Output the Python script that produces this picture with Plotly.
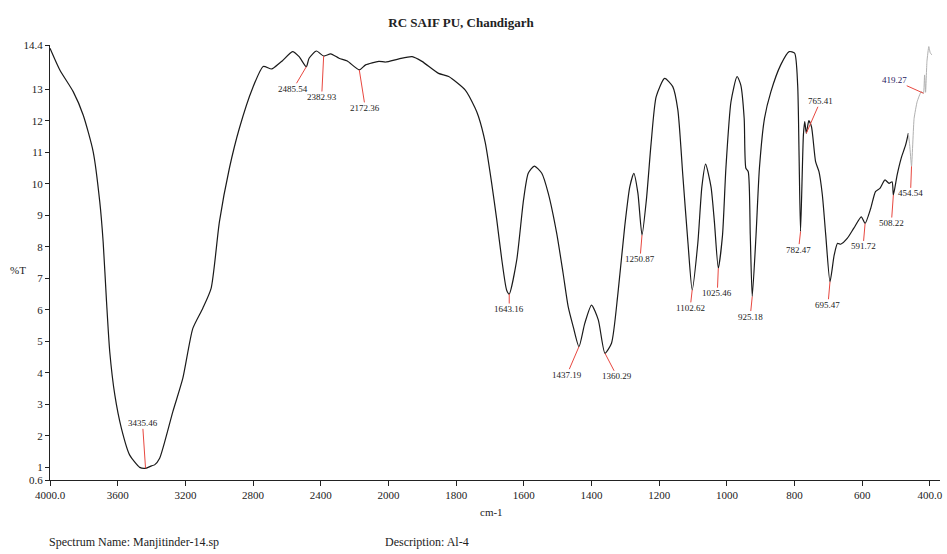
import numpy as np
import plotly.graph_objects as go

# ---- spectrum data (wavenumber cm-1, %T) ----
wn_main = [4000, 3941, 3863, 3804, 3745, 3706, 3686, 3666, 3647, 3617, 3578, 3529, 3470, 3435.46,
           3400, 3382, 3352, 3274, 3215, 3156, 3097, 3048, 2999, 2940, 2881, 2803, 2740, 2690,
           2645, 2626, 2567, 2528, 2485.54, 2469, 2426, 2382.93, 2341, 2292, 2243, 2172.36, 2135,
           2057, 2017, 1969, 1930, 1901, 1852, 1822, 1773, 1744, 1734, 1714, 1695, 1680, 1665,
           1651, 1643.16, 1621, 1601, 1587, 1569, 1547, 1528, 1503, 1484, 1469, 1454, 1437.19,
           1420, 1400, 1380, 1360.29, 1341, 1322, 1302, 1287, 1275, 1263, 1250.87, 1238, 1224,
           1209, 1184, 1160, 1145, 1130, 1115, 1102.62, 1086, 1074, 1063, 1047, 1037, 1025.46,
           1013, 1003, 988, 970, 959, 949, 944, 937, 931, 925.18, 914, 904, 889, 870, 841, 816,
           800, 791, 787, 782.47, 774, 770, 765.41, 758, 750, 738, 728, 718, 708, 695.47, 683,
           673, 664, 644, 625, 603, 591.72, 575, 561, 548, 533, 521, 512, 508.22, 497, 485, 472, 464]
t_main = [14.3, 13.6, 12.92, 12.18, 11.02, 9.43, 8.16, 6.26, 4.67, 3.30, 2.24, 1.39, 1.00, 0.97,
          1.05, 1.08, 1.29, 2.77, 3.83, 5.41, 6.05, 6.68, 8.79, 10.49, 11.76, 13.03, 13.72, 13.64,
          13.82, 13.9, 14.19, 14.03, 13.71, 13.98, 14.21, 14.05, 14.12, 13.98, 13.89, 13.61, 13.77,
          13.88, 13.86, 13.96, 14.03, 13.88, 13.5, 13.4, 12.97, 12.4, 12.13, 11.3, 10.01, 8.85, 7.58,
          6.63, 6.5, 7.58, 9.48, 10.33, 10.56, 10.33, 9.7, 8.43, 7.16, 6.1, 5.46, 4.83,
          5.57, 6.15, 5.68, 4.62, 4.94, 6.52, 8.64, 9.9, 10.33, 9.7, 8.37, 9.48, 11.28,
          12.76, 13.34, 13.08, 12.34, 10.22, 8.11, 6.63, 8.11, 9.9, 10.62, 9.9, 8.79, 7.32,
          8.37, 10.49, 12.6, 13.4, 13.13, 12.07, 10.49, 10.38, 8.37, 6.42, 8.37, 10.49, 12.07, 12.92, 13.77, 14.19,
          14.14, 13.13, 11.02, 8.48, 11.55, 11.97, 11.6, 12.0, 11.8, 10.7, 10.38, 9.64, 8.37, 6.89, 7.74,
          8.11, 8.08, 8.27, 8.59, 8.95, 8.74, 9.22, 9.75, 9.85, 10.12, 10.01, 10.06, 9.64, 10.28, 10.81, 11.23, 11.6]

wn_tail = [464, 460, 454.54, 447, 438, 426, 419.27, 416, 413, 409, 403.5, 399, 394]
t_tail = [11.6, 11.23, 10.55, 12.07, 12.6, 12.92, 12.87, 13.45, 12.9, 13.88, 14.35, 14.14, 14.09]

# ---- peak labels ----
peak_wn = [3435.46, 2485.54, 2382.93, 2172.36, 1643.16, 1437.19, 1360.29, 1250.87, 1102.62,
           1025.46, 925.18, 782.47, 765.41, 695.47, 591.72, 508.22, 454.54, 419.27]
peak_text = ["3435.46", "2485.54", "2382.93", "2172.36", "1643.16", "1437.19", "1360.29", "1250.87",
             "1102.62", "1025.46", "925.18", "782.47", "765.41", "695.47", "591.72", "508.22",
             "454.54", "419.27"]

# ---- axis ticks ----
tick_wn = [4000, 3600, 3200, 2800, 2400, 2000, 1800, 1600, 1400, 1200, 1000, 800, 600, 400]
tick_lbl = ["4000.0", "3600", "3200", "2800", "2400", "2000", "1800", "1600", "1400", "1200",
            "1000", "800", "600", "400.0"]
ytick_vals = [0.6, 1, 2, 3, 4, 5, 6, 7, 8, 9, 10, 11, 12, 13, 14.4]
ytick_lbl = ["0.6", "1", "2", "3", "4", "5", "6", "7", "8", "9", "10", "11", "12", "13", "14.4"]

# label offsets in pixels (style, not data)
label_offsets = [(-3, -45), (-13, 22), (-2, 41), (6, 38), (0, 15), (-12, 28), (12, 23), (-2, 24),
                 (-2, 18), (-1, 25), (-2, 20), (-2, 18), (14, -32), (-2, 23), (-2, 23), (-2, 28),
                 (-1, 27), (-29, -13)]


def to_u(w):
    """Instrument scale: x2 expansion below 2000 cm-1."""
    w = np.asarray(w, dtype=float)
    return np.where(w >= 2000, 4000 - w, 2000 + 2 * (2000 - w))


SERIF = "Liberation Serif, Times New Roman, serif"

fig = go.Figure()
fig.add_trace(go.Scatter(x=to_u(wn_main), y=t_main, mode="lines",
                         line=dict(color="#1a1a1a", width=1.2, shape="spline", smoothing=0.6),
                         hoverinfo="skip", showlegend=False))
fig.add_trace(go.Scatter(x=to_u(wn_tail), y=t_tail, mode="lines",
                         line=dict(color="#b0b0b0", width=1, shape="spline", smoothing=0.4),
                         hoverinfo="skip", showlegend=False))

all_u = np.concatenate([to_u(wn_main), to_u(wn_tail)])
all_t = np.concatenate([t_main, t_tail])
order = np.argsort(all_u)
for w, txt, (ax, ay) in zip(peak_wn, peak_text, label_offsets):
    u = float(to_u(w))
    t = float(np.interp(u, all_u[order], all_t[order]))
    fig.add_annotation(x=u, y=t, xref="x", yref="y", text=txt, showarrow=True,
                       arrowhead=0, arrowwidth=1, arrowcolor="#e8473f", standoff=0,
                       ax=ax, ay=ay, borderpad=0,
                       font=dict(family=SERIF, size=9,
                                 color="#1f2060" if txt == "419.27" else "#222222"))

fig.add_annotation(text="%T", x=18, y=270, xref="paper", yref="paper", showarrow=False,
                   font=dict(family=SERIF, size=11, color="#222"))
fig.update_annotations()

W, H = 947, 554
L, R, T, B = 50, 4, 45, 74
pw = W - L - R
scale = 0.1698
umax = pw / scale

fig.update_layout(
    width=W, height=H,
    margin=dict(l=L, r=R, t=T, b=B),
    paper_bgcolor="white", plot_bgcolor="white",
    title=dict(text="<b>RC SAIF PU, Chandigarh</b>", x=461 / W, xref="container",
               y=1 - 22 / H, yref="container", xanchor="center", yanchor="middle",
               font=dict(family=SERIF, size=13, color="#222")),
    xaxis=dict(range=[0, umax], tickvals=list(to_u(tick_wn)), ticktext=tick_lbl,
               showgrid=False, zeroline=False, showline=True, linecolor="#222", linewidth=1,
               ticks="outside", ticklen=5, tickcolor="#222",
               tickfont=dict(family=SERIF, size=11, color="#222")),
    yaxis=dict(range=[0.6, 14.4], tickvals=ytick_vals, ticktext=ytick_lbl,
               showgrid=False, zeroline=False, showline=True, linecolor="#222", linewidth=1,
               ticks="outside", ticklen=4, tickcolor="#222",
               tickfont=dict(family=SERIF, size=11, color="#222")),
)

# fix the %T annotation to pixel-like paper coords
fig.layout.annotations[-1].update(x=(18 - L) / pw, y=(H - B - 270) / (H - T - B),
                                  xanchor="center", yanchor="middle")

fig.add_annotation(text="cm-1", xref="paper", yref="paper", x=(493 - L) / pw,
                   y=-(512 - (H - B)) / (H - T - B), showarrow=False, xanchor="center", yanchor="middle",
                   font=dict(family=SERIF, size=11, color="#222"))
fig.add_annotation(text="Spectrum Name: Manjitinder-14.sp", xref="paper", yref="paper",
                   x=(47 - L) / pw, y=-(542 - (H - B)) / (H - T - B), showarrow=False,
                   xanchor="left", yanchor="middle", font=dict(family=SERIF, size=12, color="#222"))
fig.add_annotation(text="Description: Al-4", xref="paper", yref="paper",
                   x=(384 - L) / pw, y=-(542 - (H - B)) / (H - T - B), showarrow=False,
                   xanchor="left", yanchor="middle", font=dict(family=SERIF, size=12, color="#222"))

fig.write_html("out.html")
